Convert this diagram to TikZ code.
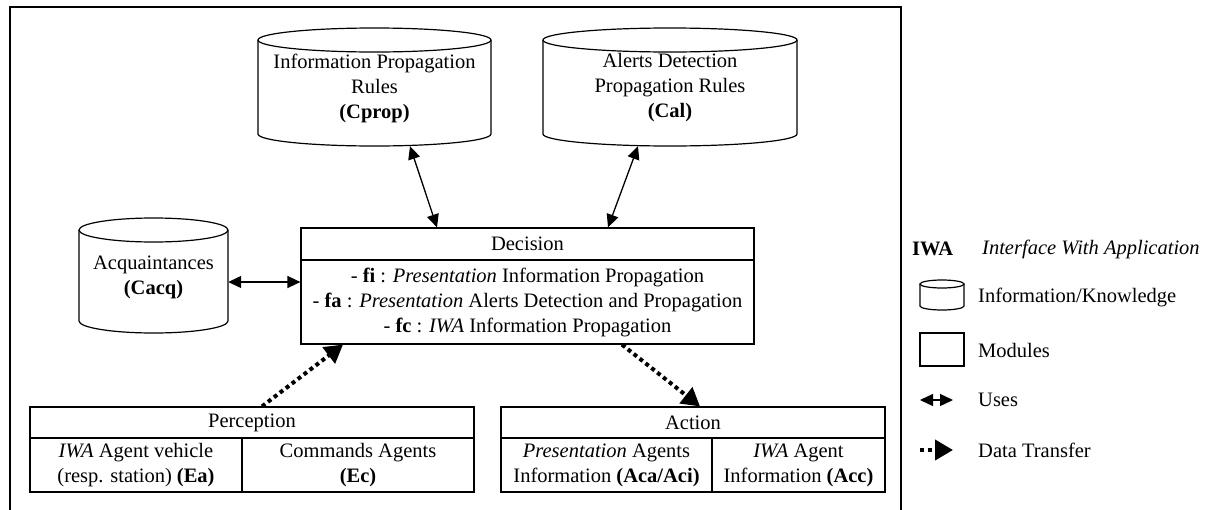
\documentclass[tikz,border=0pt]{standalone}
\usepackage{fontspec}
\setmainfont{Liberation Serif}
\usetikzlibrary{arrows.meta}
\begin{document}
\begin{tikzpicture}[x=1pt,y=-1pt,
  font=\fontsize{20.5}{25}\selectfont,
  box/.style={draw, line width=1.2pt, inner sep=0pt, align=center},
  kb/.style={inner sep=0pt, align=center},
  lbl/.style={anchor=west, inner sep=0pt},
  uses/.style={line width=1.3pt, {Triangle[length=13pt,width=12pt]}-{Triangle[length=13pt,width=12pt]}},
  xfer/.style={line width=4pt, dash pattern=on 4pt off 3.5pt, -{Triangle[length=18pt,width=20pt]}},
  cyl/.style={line width=1.2pt},
]
\useasboundingbox (0,0) rectangle (1213,509);
\draw[line width=1.5pt] (10,520) -- (10,7) -- (901,7) -- (901,520);

% cylinders
\draw[cyl] (258,40) -- (258,134) arc[start angle=180,end angle=360,x radius=116.5pt,y radius=12pt] -- (491,40);
\draw[cyl] (374.5,40) ellipse[x radius=116.5pt, y radius=12pt];
\node[kb, minimum width=233pt, minimum height=116pt] (cprop) at (374.5,88) {Information Propagation\\Rules\\\textbf{(Cprop)}};

\draw[cyl] (543,40) -- (543,134) arc[start angle=180,end angle=360,x radius=127pt,y radius=12pt] -- (797,40);
\draw[cyl] (670,40) ellipse[x radius=127pt, y radius=12pt];
\node[kb, minimum width=254pt, minimum height=116pt] (cal) at (670,88) {Alerts Detection\\Propagation Rules\\\textbf{(Cal)}};

\draw[cyl] (79,230) -- (79,321) arc[start angle=180,end angle=360,x radius=74.5pt,y radius=12pt] -- (228,230);
\draw[cyl] (153.5,230) ellipse[x radius=74.5pt, y radius=12pt];
\node[kb, minimum width=149pt, minimum height=112pt] (acq) at (153.5,277) {Acquaintances\\\textbf{(Cacq)}};

% decision
\node[box, minimum width=453pt, minimum height=32pt] (dec) at (527.5,244) {Decision};
\node[box, minimum width=453pt, minimum height=84pt] (decb) at (527.5,302) {- \textbf{fi} : \textit{Presentation} Information Propagation\\- \textbf{fa} : \textit{Presentation} Alerts Detection and Propagation\\- \textbf{fc} : \textit{IWA} Information Propagation};

% perception
\node[box, minimum width=444pt, minimum height=31pt] (per) at (252,422.5) {Perception};
\node[box, minimum width=212pt, minimum height=54pt] (pea) at (136,465) {\textit{IWA} Agent vehicle\\(resp. station) \textbf{(Ea)}};
\node[box, minimum width=232pt, minimum height=54pt] (pec) at (358,465) {Commands Agents\\\textbf{(Ec)}};

% action
\node[box, minimum width=384pt, minimum height=31pt] (act) at (693,422.5) {Action};
\node[box, minimum width=211pt, minimum height=54pt] (aca) at (606.5,465) {\textit{Presentation} Agents\\Information \textbf{(Aca/Aci)}};
\node[box, minimum width=173pt, minimum height=54pt] (acc) at (798.5,465) {\textit{IWA} Agent\\Information \textbf{(Acc)}};

% connectors
\draw[uses] ([xshift=35.5pt]cprop.south) -- ([xshift=-90.5pt]dec.north);
\draw[uses] ([xshift=-32pt]cal.south) -- ([xshift=80.5pt]dec.north);
\draw[uses] ([yshift=-5pt]acq.east) -- ([yshift=20pt]decb.west);
\draw[xfer] ([xshift=10pt]per.north) -- ([xshift=-184.5pt]decb.south);
\draw[xfer] ([xshift=94.5pt]decb.south) -- ([xshift=7pt]act.north);

% legend
\node[lbl] (iwa) at (912,249) {\textbf{IWA}};
\node[lbl] (iwat) at (982,249) {\textit{Interface With Application}};
\draw[cyl] (920,284) -- (920,306) arc[start angle=180,end angle=360,x radius=22pt,y radius=4pt] -- (964,284);
\draw[cyl] (942,284) ellipse[x radius=22pt, y radius=4pt];
\node[lbl] (legk) at (978,297) {Information/Knowledge};
\node[box, minimum width=44pt, minimum height=33pt] (legm) at (942,349.5) {};
\node[lbl] (legmt) at (978,350) {Modules};
\coordinate (u1) at (920,400);
\coordinate (u2) at (953,400);
\draw[uses] (u1) -- (u2);
\node[lbl] (legu) at (978,400) {Uses};
\coordinate (d1) at (920,450);
\coordinate (d2) at (953,450);
\draw[xfer] (d1) -- (d2);
\node[lbl] (legd) at (978,450) {Data Transfer};
\end{tikzpicture}
\end{document}
